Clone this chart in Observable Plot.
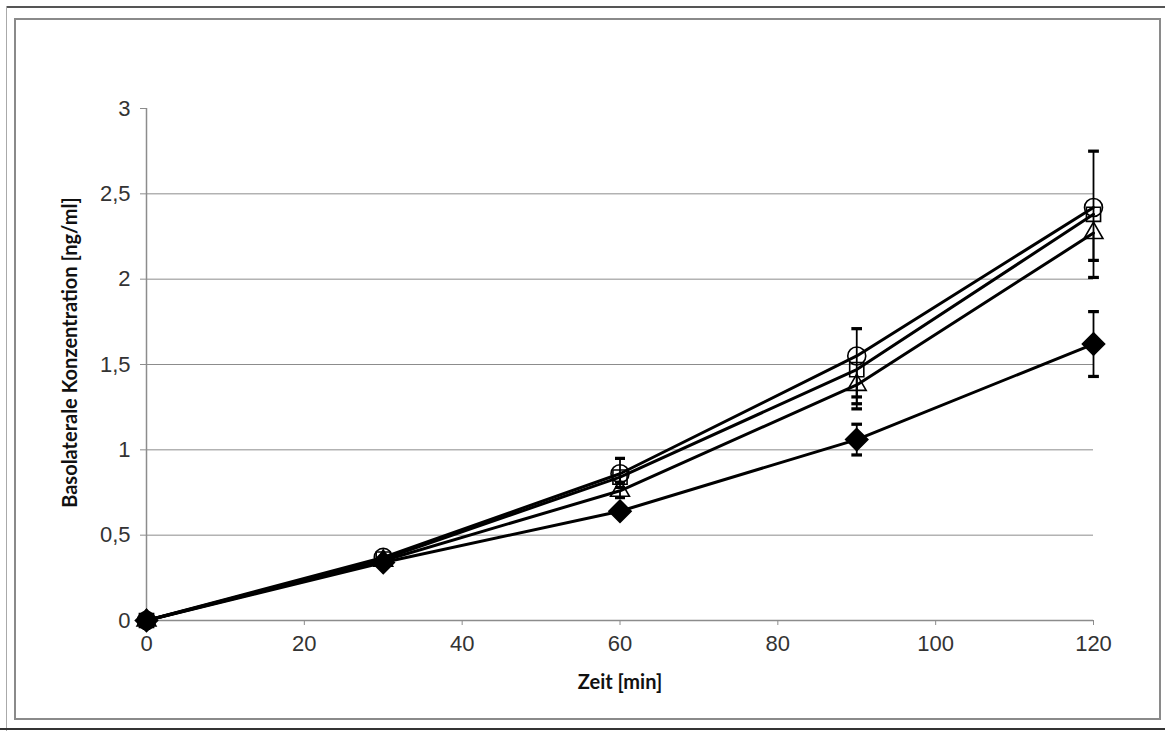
<!DOCTYPE html>
<html><head><meta charset="utf-8">
<script src="https://cdn.jsdelivr.net/npm/d3@7"></script>
<script src="https://cdn.jsdelivr.net/npm/@observablehq/plot@0.6"></script>
<style>
html,body{margin:0;padding:0;background:#fff;}
#wrap{position:relative;width:1165px;height:731px;overflow:hidden;}
#chart{position:absolute;left:0;top:0;}
.b{position:absolute;}
</style></head>
<body><div id="wrap">
<div class="b" style="left:6px;top:6px;width:1159px;height:2px;background:#555"></div>
<div class="b" style="left:6px;top:6px;width:1px;height:725px;background:#aaa"></div>
<div class="b" style="left:0;top:728px;width:1165px;height:2px;background:#333"></div>
<div class="b" style="left:14px;top:18px;width:1143px;height:698px;border:2px solid #8a8a8a"></div>
<div id="chart"></div>
</div>
<script>
const times = [0, 30, 60, 90, 120];
const diamondVals = [0, 0.34, 0.64, 1.06, 1.62];
const diamondUp   = [0, 0, 0.02, 0.09, 0.19];
const diamondDown = [0, 0, 0.03, 0.09, 0.19];
const triangleVals = [0, 0.35, 0.76, 1.38, 2.27];
const triangleUp   = [0, 0, 0, 0, 0];
const triangleDown = [0, 0, 0.04, 0.14, 0.26];
const squareVals = [0, 0.36, 0.84, 1.47, 2.38];
const squareUp   = [0, 0, 0, 0, 0];
const squareDown = [0, 0, 0.06, 0.20, 0];
const circleVals = [0, 0.37, 0.86, 1.55, 2.42];
const circleUp   = [0, 0, 0.09, 0.16, 0.33];
const circleDown = [0, 0, 0.05, 0.24, 0.31];
const yTicks = [0, 0.5, 1, 1.5, 2, 2.5, 3];
const yGrid = [0.5, 1, 1.5, 2, 2.5];
const xTicks = [0, 20, 40, 60, 80, 100, 120];

const seriesDefs = [
  {name: "diamond", vals: diamondVals, up: diamondUp, down: diamondDown, symbol: "diamond2", fill: "black", r: 10},
  {name: "triangle", vals: triangleVals, up: triangleUp, down: triangleDown, symbol: "triangle2", fill: "none", r: 9},
  {name: "square", vals: squareVals, up: squareUp, down: squareDown, symbol: "square2", fill: "none", r: 9},
  {name: "circle", vals: circleVals, up: circleUp, down: circleDown, symbol: "circle", fill: "none", r: 9}
];
const rows = [];
for (const s of seriesDefs) times.forEach((t, i) => rows.push({series: s.name, t, v: s.vals[i], lo: s.vals[i] - s.down[i], hi: s.vals[i] + s.up[i]}));
const upRows = rows.filter(d => d.hi - d.v > 0.005);
const downRows = rows.filter(d => d.v - d.lo > 0.005);

const fmt = d => String(d).replace(".", ",");
const marks = [
  Plot.ruleY(yGrid, {stroke: "#8c8c8c", strokeWidth: 1}),
  Plot.ruleX([0], {stroke: "#8c8c8c", strokeWidth: 1.5}),
  Plot.ruleY([0], {stroke: "#8c8c8c", strokeWidth: 1.5}),
  Plot.axisY({ticks: yTicks, tickFormat: fmt, tickSize: 6, tickPadding: 10, stroke: "#8c8c8c", fill: "#333", label: null, fontSize: 22}),
  Plot.axisX({ticks: xTicks, tickSize: 5, tickPadding: 10, stroke: "#8c8c8c", fill: "#333", label: null, fontSize: 22}),
  Plot.text(["Zeit [min]"], {frameAnchor: "bottom", dy: 68, fontSize: 20, fontWeight: "bold", fontFamily: "Lato", fill: "#111"}),
  Plot.text(["Basolaterale Konzentration [ng/ml]"], {frameAnchor: "left", textAnchor: "middle", dx: -76, dy: -12, rotate: -90, fontSize: 20, fontWeight: "bold", fontFamily: "Lato", fill: "#111"}),
  Plot.link(upRows, {x1: "t", x2: "t", y1: "v", y2: "hi", stroke: "black", strokeWidth: 1.8, markerEnd: "tick"}),
  Plot.link(downRows, {x1: "t", x2: "t", y1: "v", y2: "lo", stroke: "black", strokeWidth: 1.8, markerEnd: "tick"}),
  Plot.line(rows, {x: "t", y: "v", z: "series", stroke: "black", strokeWidth: 3})
];
for (const s of seriesDefs) {
  marks.push(Plot.dot(rows.filter(d => d.series === s.name), {x: "t", y: "v", symbol: s.symbol, r: s.r, stroke: "black", strokeWidth: 1.6, fill: s.fill}));
}
const chart = Plot.plot({
  width: 1165, height: 731,
  marginLeft: 146, marginRight: 72, marginTop: 108, marginBottom: 111,
  style: {fontFamily: "Liberation Sans, Arial, sans-serif", fontSize: "22px", background: "transparent"},
  x: {domain: [0, 120]},
  y: {domain: [0, 3]},
  marks
});
document.getElementById("chart").appendChild(chart);
</script>
</body></html>
